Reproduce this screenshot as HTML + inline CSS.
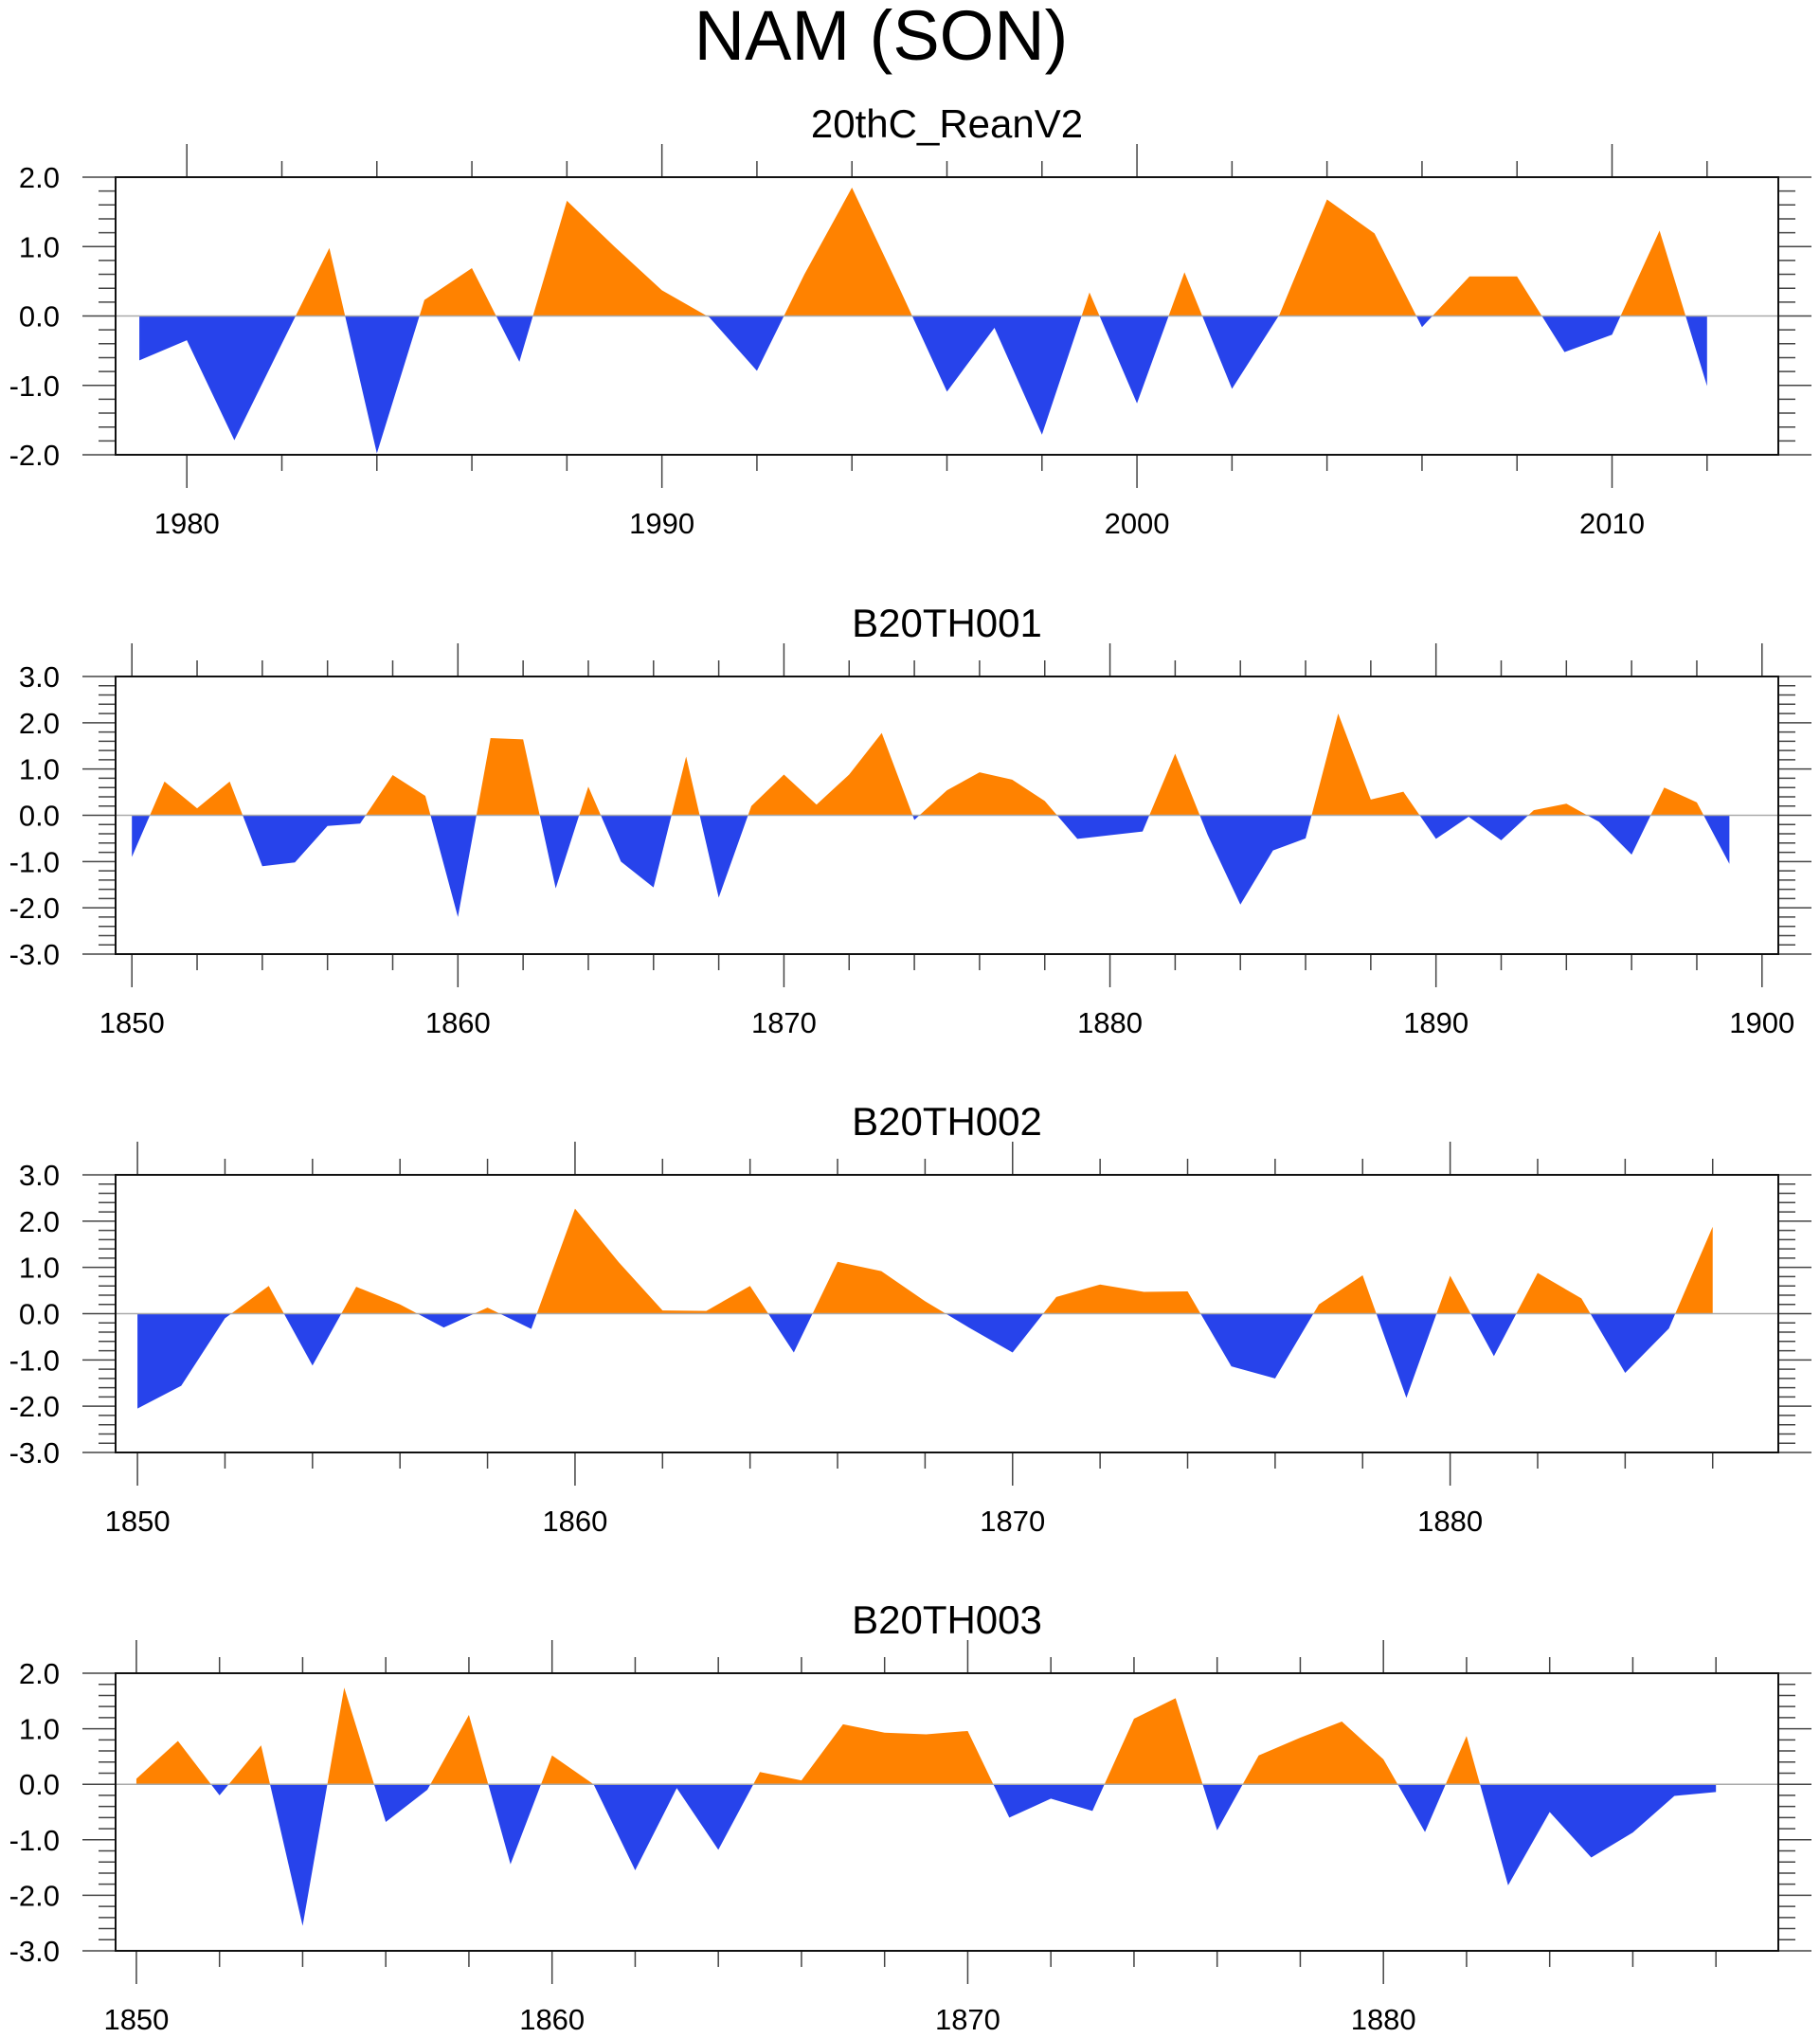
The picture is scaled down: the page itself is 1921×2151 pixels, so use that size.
<!DOCTYPE html>
<html><head><meta charset="utf-8"><style>
html,body{margin:0;padding:0;background:#fff;}
svg{display:block;font-family:"Liberation Sans",sans-serif;}
</style></head><body>
<svg id="chart" width="1921" height="2151" viewBox="0 0 1921 2151" xmlns="http://www.w3.org/2000/svg">
<text x="930" y="63" font-size="74" text-anchor="middle">NAM (SON)</text>
</svg>
<script>
const reanYears0 = 1979;
const reanValues = [-0.64,-0.35,-1.79,-0.4,0.98,-1.98,0.23,0.69,-0.66,1.66,1.0,0.37,-0.02,-0.79,0.6,1.85,0.4,-1.09,-0.17,-1.71,0.34,-1.26,0.63,-1.05,0.02,1.68,1.19,-0.16,0.57,0.57,-0.52,-0.27,1.23,-1.01];
const b001Years0 = 1850;
const b001Values = [-0.9,0.73,0.15,0.73,-1.1,-1.02,-0.23,-0.18,0.87,0.42,-2.2,1.67,1.64,-1.58,0.62,-1.0,-1.56,1.27,-1.78,0.2,0.88,0.23,0.88,1.78,-0.1,0.54,0.93,0.77,0.31,-0.51,-0.43,-0.35,1.33,-0.43,-1.93,-0.76,-0.5,2.2,0.34,0.51,-0.51,-0.03,-0.54,0.11,0.25,-0.14,-0.85,0.6,0.28,-1.05];
const b002Years0 = 1850;
const b002Values = [-2.05,-1.56,-0.1,0.6,-1.12,0.58,0.2,-0.3,0.13,-0.33,2.27,1.11,0.07,0.06,0.6,-0.84,1.12,0.92,0.27,-0.3,-0.84,0.36,0.63,0.47,0.48,-1.14,-1.4,0.2,0.83,-1.82,0.82,-0.92,0.88,0.33,-1.28,-0.32,1.88];
const b003Years0 = 1850;
const b003Values = [0.1,0.78,-0.2,0.7,-2.55,1.74,-0.68,-0.1,1.25,-1.44,0.52,0.0,-1.55,-0.07,-1.18,0.22,0.07,1.08,0.93,0.9,0.96,-0.6,-0.26,-0.48,1.18,1.55,-0.83,0.52,0.84,1.13,0.45,-0.86,0.87,-1.82,-0.5,-1.32,-0.87,-0.21,-0.14];
const panelTitles = ["20thC_ReanV2","B20TH001","B20TH002","B20TH003"];
const yMins = [-2,-3,-3,-3];
const yMaxs = [2,3,3,2];

const NS="http://www.w3.org/2000/svg";
const svg=document.getElementById('chart');
function mk(t,a,p){const e=document.createElementNS(NS,t);for(const k in a)e.setAttribute(k,a[k]);(p||svg).appendChild(e);return e;}
const tops=[187,714,1240,1766], H=293, L=122, R=1877;
const series=[[reanYears0,reanValues],[b001Years0,b001Values],[b002Years0,b002Values],[b003Years0,b003Values]];
series.forEach((s,i)=>{
  const y0=s[0], vals=s[1], top=tops[i], bot=top+H;
  const xmin=y0-0.5, xmax=y0+vals.length-1+1.5;
  const X=v=>L+(v-xmin)/(xmax-xmin)*(R-L);
  const Y=v=>bot-(v-yMins[i])/(yMaxs[i]-yMins[i])*H;
  const g=mk('g',{});
  
  
  const t=mk('text',{x:(L+R)/2,y:top-42,'font-size':42,'text-anchor':'middle'},g);
  t.textContent=panelTitles[i];
  
  
  const z=Y(0);
  let pts=`${X(y0)},${z} `;
  vals.forEach((v,j)=>{pts+=`${X(y0+j)},${Y(v)} `;});
  pts+=`${X(y0+vals.length-1)},${z}`;
  const cid='c'+i;
  const defs=mk('defs',{},g);
  const ca=mk('clipPath',{id:cid+'a'},defs); mk('rect',{x:L,y:top,width:R-L,height:z-top},ca);
  const cb=mk('clipPath',{id:cid+'b'},defs); mk('rect',{x:L,y:z,width:R-L,height:bot-z},cb);
  const pa=mk('polygon',{points:pts,fill:'#ff8200','clip-path':`url(#${cid}a)`},g);
  
  
  const pb=mk('polygon',{points:pts,fill:'#2743eb','clip-path':`url(#${cid}b)`},g);
  
  
  const zl=mk('line',{x1:L,x2:R,y1:z,y2:z,stroke:'#aaa','stroke-width':1.5},g);
  
  
  // y ticks
  const steps=Math.round((yMaxs[i]-yMins[i])/0.2);
  for(let k=0;k<=steps;k++){
    const v=yMins[i]+k*0.2, y=Y(v), major=k%5===0;
    const len=major?35:18;
    mk('line',{x1:L-len,x2:L,y1:y,y2:y,stroke:'#444','stroke-width':1.5},g);
    mk('line',{x1:R,x2:R+len,y1:y,y2:y,stroke:'#444','stroke-width':1.5},g);
    if(major){
      const lt=mk('text',{x:63,y:y+11,'font-size':31,'text-anchor':'end'},g);
      lt.textContent=v.toFixed(1);
      
      
    }
  }
  // x ticks
  for(let yr=Math.ceil(xmin/2)*2; yr<=xmax; yr+=2){
    const x=X(yr), major=yr%10===0, len=major?35:17;
    mk('line',{x1:x,x2:x,y1:top-len,y2:top,stroke:'#444','stroke-width':1.5},g);
    mk('line',{x1:x,x2:x,y1:bot,y2:bot+len,stroke:'#444','stroke-width':1.5},g);
    if(major){
      const xt=mk('text',{x:x,y:bot+83,'font-size':31,'text-anchor':'middle'},g);
      xt.textContent=yr;
      
      
    }
  }
  const fr=mk('rect',{x:L,y:top,width:R-L,height:H,fill:'none',stroke:'#111','stroke-width':2},g);
  
  
});
</script>
</body></html>
